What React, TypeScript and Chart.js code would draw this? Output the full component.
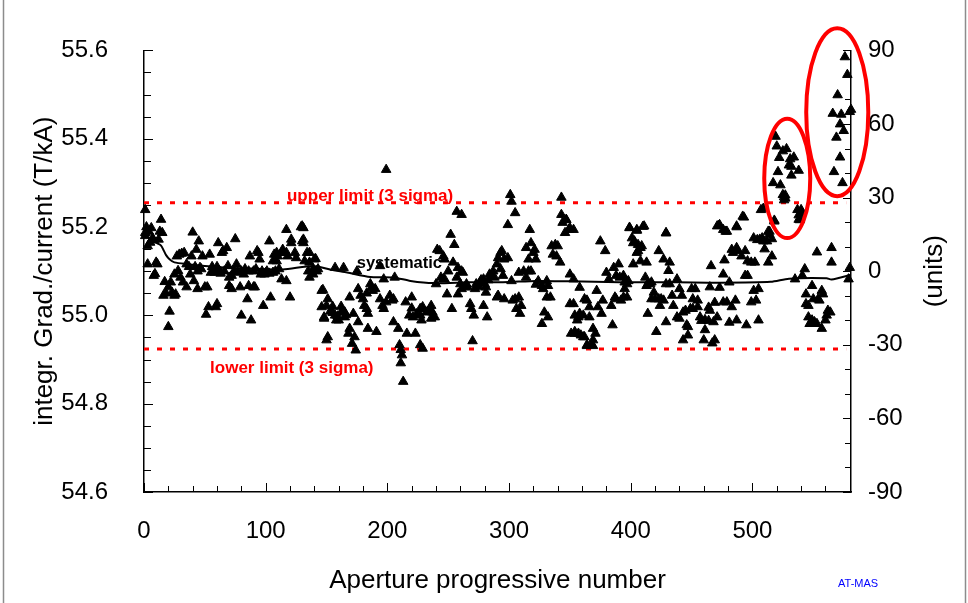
import React, { useEffect, useRef } from 'react';
import { Chart, registerables } from 'chart.js';

Chart.register(...registerables);

// ---------- axis ranges & tick labels ----------
const apertureMin = 0;
const apertureMax = 581;
const gradMin = 54.6;
const gradMax = 55.6;
const unitsMin = -90;
const unitsMax = 90;
const apertureLabelStep = 100;
const gradLabelStep = 0.2;
const unitsLabelStep = 30;

// ---------- limits ----------
const upperLimit = 55.255;
const lowerLimit = 54.924;

// ---------- measured apertures [aperture number, integrated gradient / current] ----------
const pointsA: [number, number][] = [
  [1,55.239],[1,55.187],[1,55.18],[2,55.2],[3,55.157],[3,55.116],[4,55.19],[5,55.165],[6,55.198],[7,55.175],
  [8,55.17],[8,55.09],[9,55.094],[10,55.12],[11,55.116],[12,55.172],[13,55.19],[14,55.217],[15,55.187],[16,55.045],
  [17,55.076],[18,55.05],[20,55.064],[20,54.974],[21,55.009],[22,55.075],[23,55.052],[25,55.045],[25,55.093],[26,55.048],
  [27,55.134],[28,55.101],[29,55.138],[30,55.086],[31,55.14],[32,55.075],[33,55.142],[35,55.064],[35,55.116],[37,55.11],
  [38,55.093],[39,55.134],[40,55.188],[41,55.078],[42,55.11],[43,55.149],[44,55.06],[44,55.1],[45,55.168],[46,55.108],
  [47,55.105],[48,55.134],[50,55.064],[51,55.002],[52,55.064],[53,55.019],[54,55.138],[55,55.097],[56,55.11],[58,55.097],
  [58,55.1],[59,55.019],[60,55.026],[60,55.11],[61,55.164],[62,55.101],[63,55.095],[64,55.142],[65,55.146],[66,55.1],
  [68,55.153],[69,55.112],[70,55.086],[70,55.067],[72,55.06],[72,55.09],[74,55.1],[75,55.173],[76,55.116],[77,55.097],
  [79,55.064],[80,55.0],[80,55.1],[82,55.093],[83,55.105],[85,55.037],[86,55.067],[86,55.1],[87,55.134],[88,54.989],
  [90,55.064],[90,55.1],[91,55.064],[92,55.105],[93,55.146],[94,55.142],[95,55.127],[96,55.093],[97,55.1],[98,55.022],
  [99,55.093],[100,55.096],[101,55.1],[103,55.168],[103,55.095],[104,55.041],[106,55.123],[106,55.097],[107,55.138],[108,55.1],
  [109,55.123],[109,55.142],[110,55.134],[111,55.105],[113,55.082],[113,55.142],[114,55.149],
];

const pointsB: [number, number][] = [
  [117,55.194],[117,55.142],[117,55.078],[118,55.134],[120,55.041],[121,55.172],[121,55.164],[124,55.142],[125,55.13],[129,55.2],
  [130,55.168],[130,55.202],[131,55.198],[131,55.164],[131,55.172],[132,55.123],[134,55.142],[135,55.1],[136,55.086],[136,55.12],
  [136,55.142],[139,55.093],[139,55.105],[140,55.127],[141,55.128],[142,55.1],[143,55.105],[146,55.019],[146,55.056],[147,55.058],
  [148,54.996],[148,54.993],[150,55.022],[150,54.944],[151,55.037],[151,54.951],[153,55.009],[155,55.006],[155,55.02],[157,55.0],
  [157,55.108],[158,54.989],[159,54.998],[160,54.989],[162,55.007],[162,55.02],[164,55.108],[165,54.996],[165,55.007],[166,55.001],
  [168,54.959],[169,55.041],[169,54.97],[171,54.936],[172,55.004],[173,54.951],[174,54.921],[175,55.1],[176,54.985],[176,55.06],
  [178,55.045],[180,55.037],[181,55.022],[183,55.015],[183,55.05],[184,55.004],[184,54.97],[186,55.071],[187,55.063],[188,55.056],
  [190,55.06],[191,54.963],[194,55.112],[194,55.037],[196,55.022],[197,55.015],[197,55.082],[199,55.33],[199,55.03],[202,55.045],
  [204,55.034],[205,55.037],[205,54.985],[206,55.086],[209,54.97],[210,54.933],[211,54.922],[211,54.892],[212,54.91],[213,54.85],
  [215,55.03],[216,54.959],[218,55.0],[220,55.041],[220,55.016],[221,54.996],[223,54.959],[224,55.003],[227,55.0],[227,55.015],
  [227,54.933],[228,54.989],[229,54.925],[229,55.019],[232,55.007],
];

const pointsC: [number, number][] = [
  [235,55.015],[236,55.022],[236,54.993],[237,55.007],[239,54.996],[240,55.071],[241,55.149],[243,55.146],[244,55.086],[246,55.082],
  [246,55.134],[247,55.127],[247,55.082],[249,55.048],[250,55.1],[252,55.183],[253,55.015],[254,55.12],[255,55.16],[257,55.086],
  [257,55.235],[258,55.108],[258,55.048],[260,55.071],[261,55.1],[261,55.06],[261,55.228],[262,55.097],[264,55.064],[265,55.071],
  [266,55.064],[268,55.026],[269,55.015],[270,54.942],[271,55.0],[272,55.06],[273,55.071],[275,55.064],[276,55.075],[277,55.08],
  [279,55.082],[279,55.022],[280,55.071],[281,55.064],[281,55.052],[282,54.996],[283,55.08],[284,55.093],[286,55.09],[287,55.1],
  [288,55.086],[290,55.116],[290,55.041],[291,55.13],[291,55.045],[293,55.142],[293,55.105],[294,55.146],[295,55.09],[296,55.127],
  [296,55.037],[299,55.13],[299,55.205],[301,55.273],[302,55.258],[302,55.078],[303,55.034],[305,55.232],[305,55.037],[306,55.015],
  [308,55.041],[308,55.097],[309,55.004],[310,55.022],[312,55.1],[314,55.086],[314,55.153],[316,55.1],[316,55.127],[317,55.194],
  [318,55.1],[318,55.164],[320,55.142],[321,55.149],[322,55.127],[322,55.07],[324,55.078],[327,55.067],[327,54.981],[328,55.06],
  [329,55.007],[331,55.078],[331,55.041],[332,55.067],[332,54.996],[334,55.041],[335,55.157],[336,55.138],[338,55.16],[339,55.134],
  [340,55.157],[342,55.12],[343,55.228],[343,55.267],[344,55.21],[346,55.187],[347,55.217],[347,55.216],[349,55.194],[350,55.198],
  [350,55.093],[350,55.026],[351,54.959],
];

const pointsD: [number, number][] = [
  [353,55.194],[353,55.082],[353,55.026],[354,55.0],[354,54.963],[354,54.959],[356,54.989],[357,54.996],[357,54.959],[358,55.004],
  [358,55.063],[359,54.955],[361,55.0],[361,54.951],[362,54.951],[362,55.037],[364,55.034],[364,54.933],[364,54.931],[366,55.019],
  [366,54.996],[368,54.933],[369,54.944],[369,54.97],[369,54.931],[371,54.959],[372,55.056],[373,55.019],[375,55.168],[376,55.004],
  [377,55.034],[379,55.146],[380,55.097],[382,55.082],[384,55.022],[385,54.978],[386,55.108],[387,55.041],[388,55.09],[388,55.037],
  [390,55.116],[391,55.086],[392,55.034],[394,55.09],[394,55.041],[395,55.075],[395,55.06],[397,55.071],[397,55.041],[398,55.078],
  [399,55.198],[399,55.199],[401,55.175],[402,55.164],[402,55.116],[403,55.168],[405,55.194],[405,55.142],[405,55.192],[406,55.16],
  [406,55.146],[408,55.153],[408,55.123],[409,55.157],[410,55.201],[411,55.202],[412,55.086],[413,55.12],[413,55.067],[414,55.071],
  [414,55.004],[416,55.071],[417,55.075],[417,55.037],[419,55.052],[420,55.037],[421,54.963],[423,55.037],[423,55.146],[424,55.022],
  [425,55.037],[427,55.034],[427,55.127],[429,55.187],[429,55.186],[429,55.071],[429,54.985],[431,55.101],[432,55.12],[432,55.071],
  [434,55.045],[435,55.022],[438,55.082],[438,54.996],[440,55.06],[440,54.993],[442,55.045],[443,55.007],[443,54.944],[445,55.011],
  [446,54.978],[447,54.974],[447,54.955],[449,55.015],[450,55.06],[451,55.037],[451,55.015],[453,55.06],[455,55.034],[455,55.019],
  [457,54.996],[458,54.988],[460,54.944],[461,54.99],[461,54.967],[464,54.988],[464,55.018],[465,55.011],[465,55.064],[466,55.112],
  [467,54.937],[468,54.985],[469,55.029],[469,54.944],[471,54.996],[471,55.202],
];

const pointsE: [number, number][] = [
  [472,55.203],[473,55.205],[473,55.063],[476,55.194],[476,55.093],[476,55.03],[477,55.125],[478,55.19],[479,55.19],[479,55.03],
  [481,55.075],[481,54.984],[483,55.149],[483,55.019],[484,55.142],[486,55.034],[487,55.202],[487,55.2],[487,55.153],[487,54.989],
  [488,55.146],[491,55.134],[492,55.224],[493,55.222],[494,55.146],[494,55.09],[495,54.978],[496,55.123],[496,55.09],[499,55.12],
  [499,55.03],[501,55.056],[501,55.175],[502,55.12],[503,55.034],[504,55.171],[505,55.06],[505,54.989],[506,55.172],[507,55.239],
  [508,55.175],[509,55.242],[509,55.168],[510,55.15],[512,55.168],[513,55.19],[513,55.12],[514,55.183],[514,55.19],[516,55.173],
  [516,55.134],[518,55.213],[518,55.215],[525,55.273],[526,55.261],[527,55.265],[535,55.082],[537,55.239],[538,55.227],[538,55.217],
  [539,55.216],[540,55.232],[540,55.239],[541,55.09],[543,55.105],[544,55.048],[544,55.026],[546,55.022],[546,54.996],[547,54.981],
  [549,55.067],[549,54.989],[550,55.037],[551,54.985],[553,55.143],[553,54.981],[554,55.037],[555,55.034],[557,55.056],[557,54.97],
  [558,55.048],[560,54.989],[561,55.0],[562,55.011],[564,55.007],[565,55.153],[565,55.12],[579,55.082],[580,55.108],
];

const pointsHigh: [number, number][] = [
  [517,55.3],[519,55.405],[520,55.383],[521,55.325],[522,55.357],[523,55.295],[525,55.372],[526,55.268],[527,55.272],[528,55.377],
  [530,55.34],[531,55.354],[532,55.337],[532,55.317],[534,55.358],[538,55.328],[567,55.325],[566,55.457],[569,55.403],[570,55.499],
  [572,55.433],[572,55.358],[573,55.455],[574,55.3],[575,55.418],[576,55.585],[578,55.545],[580,55.461],[581,55.466],
];

// ---------- systematic trend ----------
const systematicCurve: [number, number][] = [
  [0,55.185],[4,55.175],[8,55.168],[11,55.163],[14,55.158],[16,55.148],[18,55.137],[21,55.127],[25,55.12],[36,55.116],
  [50,55.112],[70,55.108],[90,55.106],[114,55.104],[139,55.112],[153,55.104],[167,55.097],[186,55.087],[205,55.086],[219,55.078],
  [238,55.073],[268,55.075],[295,55.075],[323,55.078],[350,55.077],[391,55.075],[438,55.075],[472,55.074],[515,55.076],[530,55.083],
  [561,55.084],[565,55.081],[581,55.092],
];

// ---------- annotations (data coordinates) ----------
const highlightEllipses = [
  { cx: 528.6, cy: 55.31, rx: 18.9, ry: 0.135 },
  { cx: 569.7, cy: 55.46, rx: 25.5, ry: 0.19 },
];
const limitLineEnd = 577;

const toXY = (arr: [number, number][]) => arr.map(([x, y]) => ({ x, y }));
const FONT = '"Liberation Sans", Arial, Helvetica, sans-serif';

const decorPlugin = {
  id: 'decor',
  afterDatasetsDraw(chart: any) {
    const { ctx, chartArea } = chart;
    const { left, right, bottom } = chartArea;
    const xs = chart.scales.x;
    const ys = chart.scales.y;
    const y2 = chart.scales.y2;
    ctx.save();

    // inward tick marks
    ctx.strokeStyle = '#000';
    ctx.lineWidth = 1;
    ctx.beginPath();
    for (let v = 0; v <= 560; v += 20) {
      const p = Math.round(xs.getPixelForValue(v)) + 0.5;
      const len = v % 100 === 0 ? 9 : 6;
      ctx.moveTo(p, bottom);
      ctx.lineTo(p, bottom - len);
    }
    for (let i = 0; i <= 20; i++) {
      const p = Math.round(ys.getPixelForValue(gradMin + i * 0.05)) + 0.5;
      const len = i % 4 === 0 ? 9 : 7;
      ctx.moveTo(left, p);
      ctx.lineTo(left + len, p);
    }
    for (let i = 0; i <= 18; i++) {
      const p = Math.round(y2.getPixelForValue(unitsMin + i * 10)) + 0.5;
      const len = i % 3 === 0 ? 8 : 6;
      ctx.moveTo(right, p);
      ctx.lineTo(right - len, p);
    }
    ctx.stroke();

    // highlight ellipses
    ctx.strokeStyle = '#ff0000';
    ctx.lineWidth = 4;
    for (const e of highlightEllipses) {
      const px = xs.getPixelForValue(e.cx);
      const py = ys.getPixelForValue(e.cy);
      const rx = Math.abs(xs.getPixelForValue(e.cx + e.rx) - px);
      const ry = Math.abs(ys.getPixelForValue(e.cy + e.ry) - py);
      ctx.beginPath();
      ctx.ellipse(px, py, rx, ry, 0, 0, Math.PI * 2);
      ctx.stroke();
    }

    // text annotations
    ctx.textBaseline = 'middle';
    ctx.textAlign = 'left';
    ctx.fillStyle = '#ff0000';
    ctx.font = `bold 17px ${FONT}`;
    ctx.fillText('upper limit (3 sigma)', xs.getPixelForValue(117.5), ys.getPixelForValue(55.27));
    ctx.fillText('lower limit (3 sigma)', xs.getPixelForValue(54.3), ys.getPixelForValue(54.88));
    ctx.fillStyle = '#000';
    ctx.font = `bold 16.5px ${FONT}`;
    ctx.fillText('systematic', xs.getPixelForValue(174.8), ys.getPixelForValue(55.117));

    // right axis title
    ctx.save();
    ctx.translate(935, (chartArea.top + chartArea.bottom) / 2);
    ctx.rotate(-Math.PI / 2);
    ctx.textAlign = 'center';
    ctx.font = `26px ${FONT}`;
    ctx.fillStyle = '#000';
    ctx.fillText('(units)', 0, 0);
    ctx.restore();

    // footer tag
    ctx.font = `11px ${FONT}`;
    ctx.fillStyle = '#0000ff';
    ctx.textAlign = 'left';
    ctx.fillText('AT-MAS', 838, 584);

    // frame
    ctx.strokeStyle = '#8c8c8c';
    ctx.lineWidth = 1.5;
    ctx.beginPath();
    ctx.moveTo(3.5, 0);
    ctx.lineTo(3.5, 603);
    ctx.moveTo(965.5, 0);
    ctx.lineTo(965.5, 603);
    ctx.stroke();

    ctx.restore();
  },
};

const scatterStyle = {
  pointStyle: 'triangle' as const,
  pointRadius: 5.5,
  pointBorderWidth: 1,
  backgroundColor: '#000',
  borderColor: '#000',
  showLine: false,
  clip: false as const,
};

export default function App() {
  const ref = useRef<HTMLCanvasElement>(null);
  useEffect(() => {
    if (!ref.current) return;
    Chart.defaults.font.family = FONT;
    Chart.defaults.color = '#000';
    const chart = new Chart(ref.current, {
      type: 'scatter',
      data: {
        datasets: [
          { label: 'A', data: toXY(pointsA), ...scatterStyle, order: 1 },
          { label: 'B', data: toXY(pointsB), ...scatterStyle, order: 1 },
          { label: 'C', data: toXY(pointsC), ...scatterStyle, order: 1 },
          { label: 'D', data: toXY(pointsD), ...scatterStyle, order: 1 },
          { label: 'E', data: toXY(pointsE), ...scatterStyle, order: 1 },
          { label: 'High', data: toXY(pointsHigh), ...scatterStyle, order: 1 },
          {
            label: 'systematic',
            data: toXY(systematicCurve),
            showLine: true,
            borderColor: '#000',
            borderWidth: 2,
            pointRadius: 0,
            tension: 0.25,
            order: 0,
          } as any,
          {
            label: 'upper',
            data: [{ x: apertureMin, y: upperLimit }, { x: limitLineEnd, y: upperLimit }],
            showLine: true,
            borderColor: '#ff0000',
            borderWidth: 3,
            borderDash: [5, 8],
            pointRadius: 0,
            order: 5,
          } as any,
          {
            label: 'lower',
            data: [{ x: apertureMin, y: lowerLimit }, { x: limitLineEnd, y: lowerLimit }],
            showLine: true,
            borderColor: '#ff0000',
            borderWidth: 3,
            borderDash: [5, 8],
            pointRadius: 0,
            order: 5,
          } as any,
        ],
      },
      options: {
        responsive: false,
        animation: false,
        devicePixelRatio: 1,
        layout: { padding: { top: 45, left: 0, right: 0, bottom: 0 } },
        plugins: { legend: { display: false }, tooltip: { enabled: false } },
        scales: {
          x: {
            type: 'linear',
            min: apertureMin,
            max: apertureMax,
            grid: { display: false, drawTicks: false, tickLength: 0 },
            border: { display: true, color: '#000', width: 1.5 },
            ticks: {
              stepSize: apertureLabelStep,
              includeBounds: false,
              padding: 25,
              maxRotation: 0,
              autoSkip: false,
              color: '#000',
              font: { size: 24, lineHeight: 1.2 },
            },
            title: {
              display: true,
              text: 'Aperture progressive number',
              color: '#000',
              font: { size: 26, lineHeight: 1.2 },
              padding: { top: 0, bottom: 7 },
            },
            afterFit: (s: any) => { s.height = 111; },
          },
          y: {
            type: 'linear',
            position: 'left',
            min: gradMin,
            max: gradMax,
            grid: { display: false, drawTicks: false, tickLength: 0 },
            border: { display: true, color: '#000', width: 1.5 },
            ticks: {
              stepSize: gradLabelStep,
              includeBounds: false,
              padding: 36,
              autoSkip: false,
              color: '#000',
              font: { size: 24, lineHeight: 1.2 },
              callback: (v: any) => Number(v).toFixed(1),
            },
            title: {
              display: true,
              text: 'integr. Grad./current (T/kA)',
              color: '#000',
              font: { size: 26, lineHeight: 1.2 },
              padding: { top: 29, bottom: 0 },
            },
            afterFit: (s: any) => { s.width = 144; },
          },
          y2: {
            type: 'linear',
            position: 'right',
            min: unitsMin,
            max: unitsMax,
            grid: { display: false, drawTicks: false, tickLength: 0 },
            border: { display: true, color: '#000', width: 1.5 },
            ticks: {
              stepSize: unitsLabelStep,
              includeBounds: false,
              padding: 17,
              autoSkip: false,
              color: '#000',
              font: { size: 24, lineHeight: 1.2 },
            },
            title: { display: false },
            afterFit: (s: any) => { s.width = 117; },
          },
        },
      },
      plugins: [decorPlugin],
    } as any);
    return () => chart.destroy();
  }, []);

  return (
    <div style={{ position: 'fixed', left: 0, top: 0, width: 968, height: 603, background: '#fff' }}>
      <canvas ref={ref} width={968} height={603} style={{ display: 'block', width: 968, height: 603 }} />
    </div>
  );
}
